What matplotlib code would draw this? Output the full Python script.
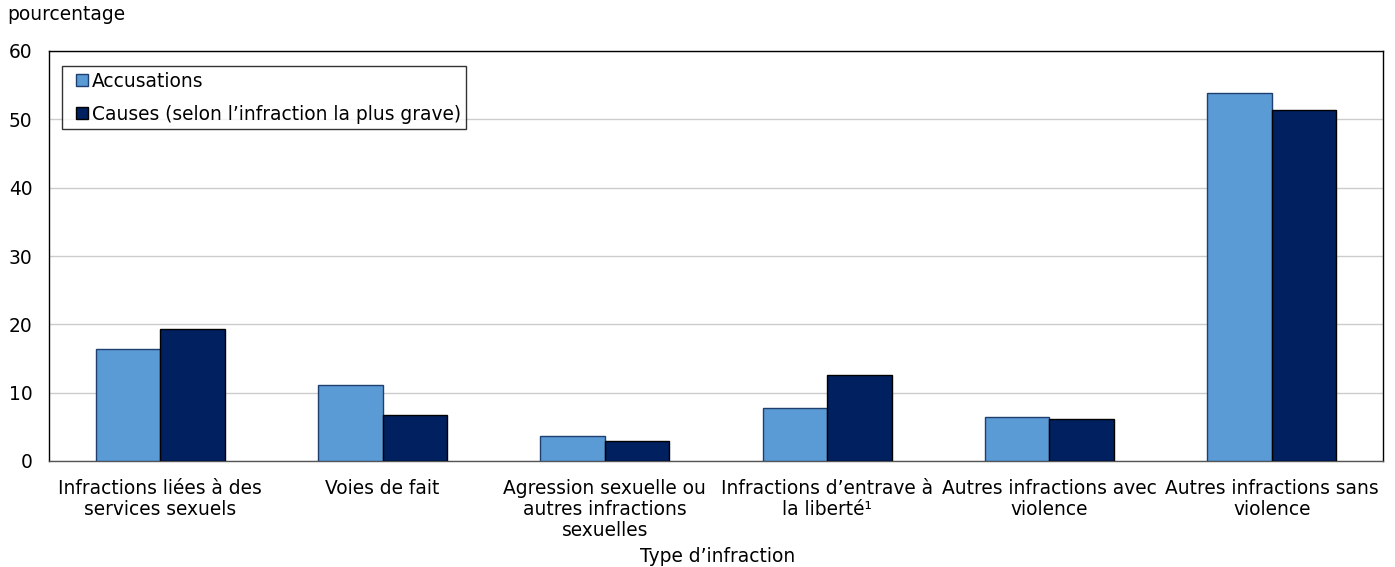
import matplotlib
matplotlib.use("Agg")
import matplotlib.pyplot as plt
from matplotlib.lines import Line2D
import numpy as np

categories = [
    "Infractions liées à des\nservices sexuels",
    "Voies de fait",
    "Agression sexuelle ou\nautres infractions\nsexuelles",
    "Infractions d’entrave à\nla liberté¹",
    "Autres infractions avec\nviolence",
    "Autres infractions sans\nviolence",
]
accusations = [16.4, 11.1, 3.7, 7.8, 6.4, 53.9]
causes = [19.3, 6.7, 2.9, 12.6, 6.2, 51.4]
series_names = ["Accusations", "Causes (selon l’infraction la plus grave)"]
yticks = [0, 10, 20, 30, 40, 50, 60]
colors = ["#5B9BD5", "#00205F"]
edges = ["#1F3F6F", "#000000"]

FS = 13.4
plt.rcParams['font.family'] = ['DejaVu Sans']
fig = plt.figure(figsize=(13.95, 5.67), dpi=100)
ax = fig.add_axes([49/1395, 1-461/567, (1383-49)/1395, (461-51)/567])

x = np.arange(len(categories))
w = 0.29
ax.bar(x - w/2, accusations, w, color=colors[0], edgecolor=edges[0], linewidth=1, zorder=3)
ax.bar(x + w/2, causes, w, color=colors[1], edgecolor=edges[1], linewidth=1, zorder=3)

ax.set_xlim(-0.5, len(categories) - 0.5)
ax.set_ylim(0, 60)
ax.set_yticks(yticks)
ax.set_xticks(x)
ax.set_xticklabels(categories, fontsize=FS, linespacing=1.12)
ax.tick_params(axis='both', length=0, labelsize=FS)
ax.tick_params(axis='y', pad=12)
ax.tick_params(axis='x', pad=13)
ax.grid(axis='y', color="#CCCCCC", linewidth=1, zorder=0)
for s in ax.spines.values():
    s.set_color("#000000")
    s.set_linewidth(1)
ax.spines['bottom'].set_color("#555555")

fig.text(718/1395, 1-556/567, "Type d’infraction", fontsize=FS, va='center', ha='center')
fig.text(7/1395, 1-14/567, "pourcentage", fontsize=FS, va='center', ha='left')

handles = [Line2D([], [], linestyle='none', marker='s', markersize=8.0,
                  markerfacecolor=c, markeredgecolor=e, markeredgewidth=1)
           for c, e in zip(colors, edges)]
leg = ax.legend(handles, series_names, loc='upper left', bbox_to_anchor=(13/1334, 1-15/410),
                fontsize=FS, frameon=True, fancybox=False, edgecolor="#000000",
                handlelength=1.55, handletextpad=-0.25,
                labelspacing=0.75, borderpad=0.3, borderaxespad=0.0)
leg.get_frame().set_linewidth(1)

fig.savefig("out.png", dpi=100)
